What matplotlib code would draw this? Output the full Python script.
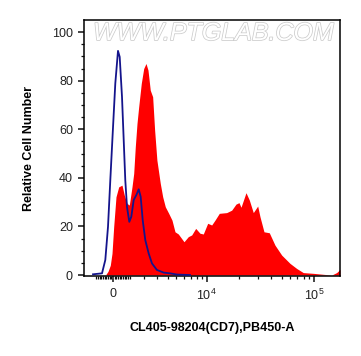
"""
CD7 staining vs isotype control, flow histogram on a biexponential-like axis.
"""
import numpy as np
import matplotlib
matplotlib.use("Agg")
from matplotlib import pyplot as plt
from matplotlib import patheffects as pe

plt.rcParams["font.family"] = ["Liberation Sans", "DejaVu Sans"]
plt.rcParams["mathtext.fontset"] = "custom"
plt.rcParams["mathtext.rm"] = "Liberation Sans"
plt.rcParams["mathtext.it"] = "Liberation Sans"

# isotype control (blue outline)
blue_x = [-1218, -656, -457, -296, -160, -18, 136, 296, 397, 535, 638, 735,
          840, 983, 1109, 1264, 1434, 1596, 1733, 1875, 2062, 2317, 2576,
          2989, 3612, 4257, 5064, 6876]
blue_y = [0.3, 0.7, 6.2, 19.9, 39, 58.3, 78.9, 92.3, 89.8, 73.4, 55.6, 39,
          28, 21.9, 24, 30.9, 32.9, 35.3, 32.2, 22.6, 14.4, 8.9, 4.8,
          2.1, 1.0, 0.7, 0.2, 0]

# CD7 stained sample (red fill)
red_x = [-415, -296, -160, -59, 41, 177, 338, 535, 674, 840, 983, 1154, 1264,
         1368, 1481, 1596, 1775, 1946, 2114, 2264, 2441, 2632, 2795, 2989,
         3292, 3516, 3769, 4118, 4477, 4822, 5226, 5984, 6612, 7149, 7828,
         8621, 9277, 10225, 11164, 12002, 13180, 15471, 17230, 18904, 20163,
         21047, 23427, 25140, 27386, 30085, 31600, 34408, 38531, 43504,
         50182, 59880, 69055, 79480, 98300, 121600, 145400, 161660, 173500]
red_y = [0.3, 1.5, 4.0, 8.9, 19.9, 32.2, 36.3, 37, 32.9, 29.5, 28.8, 36.3,
         41.8, 52.8, 62.4, 69.3, 78.9, 85, 87.1, 84.4, 76.1, 73.4, 59.7,
         47.3, 37.7, 32.2, 28.1, 25.4, 22.6, 17.8, 16.9, 13.7, 15.8, 16.5,
         19.2, 17.2, 16.9, 21.3, 20.6, 22.6, 25.4, 25.7, 26.7, 29.2, 29.8,
         27.9, 33.9, 30.9, 25.7, 28.4, 24, 17.8, 17.4, 12.3, 8.2, 4.8, 2.7,
         1.0, 0.7, 0.3, 0, 1.0, 2.3]

x_major = [0, 1e4, 1e5]
x_labels = ["0", r"$10^4$", r"$10^5$"]
x_minor = ([-v for v in range(100, 1100, 100)] + list(range(100, 1100, 100))
           + list(range(2000, 10000, 1000)) + list(range(20000, 100000, 10000)))

W = 2780.0  # linear width of the asinh axis


def fwd(x):
    return np.arcsinh(np.asarray(x, dtype=float) / W)


def inv(y):
    return W * np.sinh(np.asarray(y, dtype=float))


fig = plt.figure(figsize=(3.61, 3.56), dpi=100)
ax = fig.add_axes([0.2327, 0.2247, 0.7091, 0.7191])
ax.set_xscale("function", functions=(fwd, inv))

ax.fill_between(red_x, red_y, 0, color="#ff0000", linewidth=0, zorder=2)
ax.plot(blue_x, blue_y, color="#14148c", linewidth=1.3, zorder=3)

ax.set_xlim(-1825, 173500)
ax.set_ylim(-0.4, 105)

ax.set_xticks(x_major)
ax.set_xticklabels(x_labels)
ax.set_xticks(x_minor, minor=True)
ax.set_yticks([0, 20, 40, 60, 80, 100])
ax.set_yticks(np.arange(5, 100, 5), minor=True)

ax.tick_params(axis="both", which="major", direction="out", length=4.5,
               width=1.1, labelsize=9, colors="#111111", labelcolor="#222222")
ax.tick_params(axis="both", which="minor", direction="out", length=2.4,
               width=0.9, colors="#111111")
ax.tick_params(axis="x", which="major", pad=4)
ax.tick_params(axis="y", which="major", pad=3.5)
for s in ax.spines.values():
    s.set_linewidth(1.1)

ax.set_ylabel("Relative Cell Number", fontsize=9, fontweight="bold", labelpad=12)
ax.set_xlabel("CL405-98204(CD7),PB450-A", fontsize=9, fontweight="bold",
              labelpad=14)

# watermark
ax.text(0.506, 0.949, "WWW.PTGLAB.COM", transform=ax.transAxes, ha="center",
        va="center", fontsize=18, fontstyle="italic", color="white",
        path_effects=[pe.Stroke(linewidth=1.1, foreground="#cccccc"),
                      pe.Normal()], zorder=1)

fig.savefig("out.png", dpi=100)
